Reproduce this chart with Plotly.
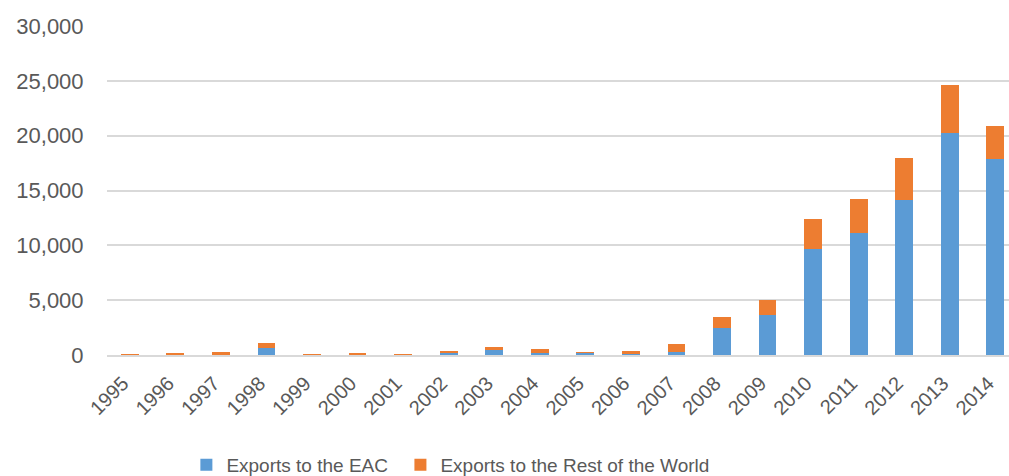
import plotly.graph_objects as go

years = [str(y) for y in range(1995, 2015)]
eac = [10, 40, 90, 600, 10, 60, 30, 150, 420, 180, 200, 90, 300, 2450, 3610, 9630, 11150, 14160, 20240, 17870]
row = [20, 60, 150, 520, 20, 60, 40, 240, 340, 370, 40, 300, 730, 1050, 1430, 2770, 3070, 3830, 4400, 3030]

text_color = "#595959"
font_family = "Liberation Sans, Arial, sans-serif"

fig = go.Figure()
fig.add_trace(go.Bar(x=years, y=eac, name="Exports to the EAC", legend="legend",
                     marker=dict(color="#5B9BD5", line=dict(width=0))))
fig.add_trace(go.Bar(x=years, y=row, name="Exports to the Rest of the World", legend="legend2",
                     marker=dict(color="#ED7D31", line=dict(width=0))))

legend_common = dict(orientation="h", xanchor="left", yref="container", y=11 / 476,
                     yanchor="middle", font=dict(size=19, color=text_color),
                     itemwidth=30, bgcolor="rgba(0,0,0,0)")

fig.update_layout(
    template="none",
    barmode="stack",
    bargap=0.61,
    width=1009, height=476,
    margin=dict(l=107, r=0, t=26, b=121, autoexpand=False),
    plot_bgcolor="white", paper_bgcolor="white",
    font=dict(family=font_family, color=text_color, size=19),
    showlegend=True,
    legend=dict(x=0.088, **legend_common),
    legend2=dict(x=0.3253, **legend_common),
    xaxis=dict(type="category", range=[-0.5, 19.3], tickangle=-45, automargin=False,
               tickfont=dict(size=20, color=text_color), showgrid=False,
               showline=True, linecolor="#D9D9D9", linewidth=1.5, ticks="outside",
               ticklen=2, tickcolor="rgba(0,0,0,0)", zeroline=False,
               ticklabelshift=-7, ticklabelstandoff=5),
    yaxis=dict(range=[0, 30000], dtick=5000, tickformat=",", showgrid=True, automargin=False,
               gridcolor="#D9D9D9", gridwidth=1.5, zeroline=False, showline=False,
               tickfont=dict(size=22, color=text_color), ticks="outside", ticklen=18,
               tickcolor="rgba(0,0,0,0)"),
)

fig.write_html("out.html", config={"displayModeBar": False},
               post_script="document.body.style.margin='0';")
